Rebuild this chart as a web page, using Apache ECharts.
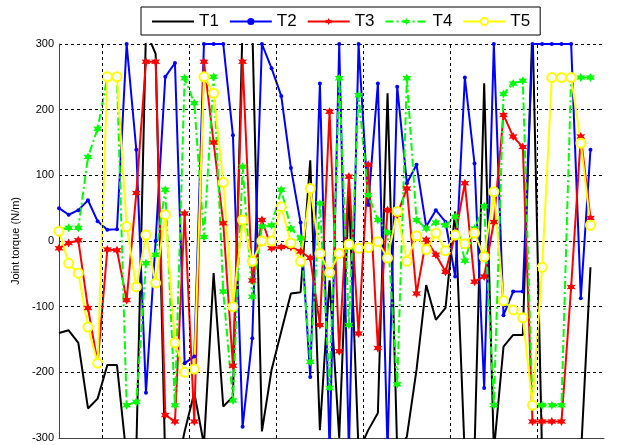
<!DOCTYPE html>
<html>
<head>
<meta charset="utf-8">
<script src="https://cdn.jsdelivr.net/npm/echarts@6/dist/echarts.min.js"></script>
<style>html,body{margin:0;padding:0;background:#fff;}#c{width:622px;height:445px;}</style>
</head>
<body>
<div id="c"></div>
<script>
const seriesNames = ['T1','T2','T3','T4','T5'];
const yTicks = [-300,-200,-100,0,100,200,300];
const vGrid = [4.5,13.5,22.5,31.5,40.5,49.5];
const T1 = [-140,-136,-155,-255,-240,-189,-189,-330,-320,320,285,-340,-360,-290,-231,-310,-49,-252,-237,330,330,-290,-196,-138,-80,-78,123,-288,-60,-300,75,-320,-288,-262,225,-320,-298,-196,-67,-120,-102,45,-330,-320,240,-320,-161,-143,-143,330,-330,-350,-350,-350,-330,-40];
const T2 = [50,40,47,62,30,17,18,300,139,-231,0,250,271,-186,-176,300,300,300,161,-283,-148,300,263,221,111,28,-207,240,-320,300,-320,300,55,240,-320,235,88,116,22,47,29,-54,249,118,-224,300,-113,-77,-77,300,300,300,300,300,-87,139];
const T3 = [-11,-3,1,-102,-186,-13,-14,-90,73,273,273,-265,-275,42,-275,273,150,27,-190,273,-60,32,-11,-9,-9,-16,-26,-128,197,-168,98,-141,116,-163,47,40,80,-80,2,-21,-47,9,88,-62,-54,29,192,159,143,-275,-275,-275,-275,-70,159,35];
const T4 = [17,20,20,128,171,250,250,-250,-245,-34,-21,78,-250,248,210,6,250,-77,-243,113,-85,22,24,78,19,4,-184,57,-224,248,-128,222,70,32,13,-218,248,32,19,28,24,37,-30,19,53,-250,224,240,244,-250,-250,-250,-250,249,249,249];
const T5 = [15,-34,-49,-131,-186,250,250,22,-70,9,-64,40,-155,-200,-195,250,225,89,-100,32,-31,0,0,52,-3,-31,80,-19,-48,-19,-5,-11,-10,-1,-26,45,-31,8,-13,12,-15,9,-4,12,-24,75,-91,-105,-117,-250,-40,249,249,249,149,24];

const star = 'path://M0,-10 L2.6,-4.5 L8.7,-5 L5.2,0 L8.7,5 L2.6,4.5 L0,10 L-2.6,4.5 L-8.7,5 L-5.2,0 L-8.7,-5 L-2.6,-4.5 Z';
const toPts = arr => arr.map((v, i) => [i, v]);

const chart = echarts.init(document.getElementById('c'), null, {renderer: 'canvas'});
chart.setOption({
  animation: false,
  backgroundColor: '#fff',
  grid: {left: 59, right: 18, top: 44, bottom: 7, containLabel: false},
  legend: {
    data: [
      {name: 'T1', itemStyle: {opacity: 0}},
      {name: 'T2'}, {name: 'T3'}, {name: 'T4'}, {name: 'T5'}
    ],
    left: 141, top: 7,
    padding: [6, 10, 5, 10],
    itemWidth: 42, itemHeight: 9, itemGap: 10,
    borderColor: '#000', borderWidth: 1,
    backgroundColor: '#fff',
    textStyle: {fontFamily: 'Liberation Sans, Arial', fontSize: 17, color: '#000'}
  },
  xAxis: {
    type: 'value', min: 0, max: 56.4,
    axisLine: {show: true, onZero: false, lineStyle: {color: '#444', width: 1}},
    axisTick: {show: false}, axisLabel: {show: false}, splitLine: {show: false}
  },
  yAxis: {
    type: 'value', min: -300, max: 300, interval: 100,
    name: 'Joint torque (N/m)', nameLocation: 'middle', nameGap: 35, nameRotate: 90,
    nameTextStyle: {fontFamily: 'Liberation Sans, Arial', fontSize: 11, color: '#000'},
    axisLine: {show: true, lineStyle: {color: '#444', width: 1}},
    axisTick: {show: false},
    axisLabel: {fontFamily: 'Liberation Sans, Arial', fontSize: 11, color: '#000', margin: 5},
    splitLine: {show: true, lineStyle: {color: '#000', type: [3, 3], width: 1}}
  },
  series: [
    {name: 'T1', type: 'line', data: toPts(T1), showSymbol: false, symbol: 'none',
     lineStyle: {color: '#000', width: 2}, itemStyle: {color: '#000'},
     markLine: {silent: true, symbol: 'none', label: {show: false},
       lineStyle: {color: '#000', type: [3, 3], width: 1},
       data: vGrid.map(x => ({xAxis: x}))}},
    {name: 'T2', type: 'line', data: toPts(T2), symbol: 'circle', symbolSize: 4,
     lineStyle: {color: '#0000ff', width: 2}, itemStyle: {color: '#0000ff'}},
    {name: 'T3', type: 'line', data: toPts(T3), symbol: star, symbolSize: 9,
     lineStyle: {color: '#ff0000', width: 2}, itemStyle: {color: '#ff0000'}},
    {name: 'T4', type: 'line', data: toPts(T4), symbol: star, symbolSize: 9,
     lineStyle: {color: '#00ff00', width: 2, type: [8, 3, 2, 3]}, itemStyle: {color: '#00ff00'}},
    {name: 'T5', type: 'line', data: toPts(T5), symbol: 'emptyCircle', symbolSize: 9,
     lineStyle: {color: '#ffff00', width: 2}, itemStyle: {color: '#ffff00', borderColor: '#e6e600', borderWidth: 1.5}}
  ]
});
</script>
</body>
</html>
